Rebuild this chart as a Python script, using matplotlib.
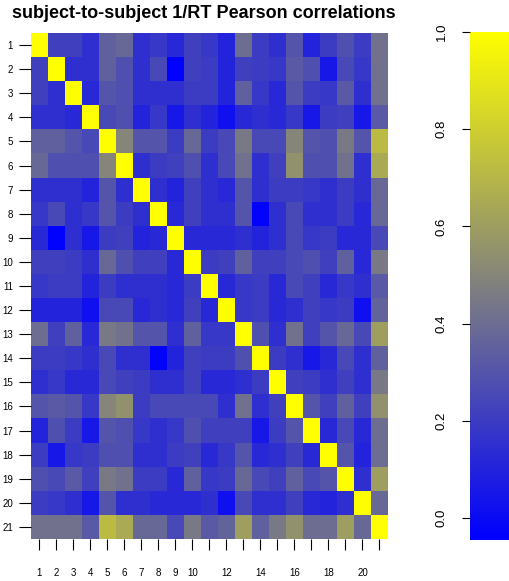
import numpy as np
import matplotlib
matplotlib.use("Agg")
import matplotlib.pyplot as plt
from matplotlib.colors import LinearSegmentedColormap

plt.rcParams["font.family"] = ["Liberation Sans", "DejaVu Sans"]

# subject ids
subjects = list(range(1, 22))
xtick_labels = ["1", "2", "3", "4", "5", "6", "7", "8", "9", "10", "", "12", "",
                "14", "", "16", "", "18", "", "20", ""]

# lower triangle of the correlation matrix (row i, cols 1..i-1)
lower_rows = [
    [],
    [0.22],
    [0.22, 0.15],
    [0.15, 0.15, 0.12],
    [0.35, 0.35, 0.30, 0.25],
    [0.38, 0.28, 0.28, 0.28, 0.50],
    [0.15, 0.15, 0.15, 0.10, 0.30, 0.15],
    [0.18, 0.25, 0.15, 0.18, 0.30, 0.20, 0.15],
    [0.12, -0.04, 0.15, 0.05, 0.20, 0.22, 0.10, 0.12],
    [0.22, 0.22, 0.20, 0.15, 0.38, 0.28, 0.22, 0.22, 0.12],
    [0.18, 0.20, 0.20, 0.10, 0.20, 0.15, 0.15, 0.15, 0.12, 0.20],
    [0.10, 0.10, 0.10, 0.02, 0.25, 0.25, 0.12, 0.15, 0.12, 0.22, 0.12],
    [0.40, 0.22, 0.35, 0.12, 0.45, 0.42, 0.30, 0.30, 0.15, 0.35, 0.18, 0.18],
    [0.20, 0.20, 0.18, 0.15, 0.25, 0.15, 0.15, -0.03, 0.10, 0.22, 0.20, 0.20, 0.28],
    [0.15, 0.18, 0.12, 0.12, 0.25, 0.22, 0.20, 0.15, 0.15, 0.22, 0.12, 0.12, 0.15, 0.20],
    [0.30, 0.32, 0.30, 0.18, 0.50, 0.55, 0.20, 0.25, 0.25, 0.25, 0.25, 0.15, 0.42, 0.15,
     0.22],
    [0.10, 0.28, 0.20, 0.05, 0.30, 0.28, 0.18, 0.15, 0.18, 0.28, 0.22, 0.22, 0.22, 0.05,
     0.20, 0.30],
    [0.20, 0.05, 0.18, 0.20, 0.28, 0.28, 0.15, 0.15, 0.20, 0.22, 0.12, 0.18, 0.30, 0.12,
     0.15, 0.22, 0.12],
    [0.28, 0.25, 0.32, 0.22, 0.45, 0.42, 0.20, 0.20, 0.12, 0.35, 0.18, 0.20, 0.38, 0.25,
     0.22, 0.35, 0.25, 0.30],
    [0.20, 0.18, 0.15, 0.05, 0.30, 0.15, 0.15, 0.12, 0.12, 0.12, 0.15, 0.02, 0.25, 0.15,
     0.15, 0.22, 0.12, 0.10, 0.15],
    [0.42, 0.42, 0.42, 0.32, 0.72, 0.65, 0.38, 0.38, 0.25, 0.45, 0.32, 0.36, 0.60, 0.35,
     0.45, 0.55, 0.40, 0.40, 0.60, 0.38],
]

n = len(subjects)
corr = np.eye(n)
for i, row in enumerate(lower_rows):
    for j, v in enumerate(row):
        corr[i, j] = v
        corr[j, i] = v

cmap = LinearSegmentedColormap.from_list("bgy", ["#0000FF", "#808080", "#FFFF00"])
vmin, vmax = -0.045, 1.0

fig = plt.figure(figsize=(5.1, 5.81), dpi=100)
ax = fig.add_axes([31 / 510, 1 - 539 / 581, 357 / 510, 506 / 581])
ax.imshow(corr, cmap=cmap, vmin=vmin, vmax=vmax, aspect="auto",
          interpolation="nearest")
for s in ax.spines.values():
    s.set_visible(False)

ax.set_xticks(np.arange(n))
ax.set_xticklabels(xtick_labels, fontsize=7)
ax.set_yticks(np.arange(n))
ax.set_yticklabels([str(s) for s in subjects], fontsize=7)
ax.tick_params(axis="x", length=8, width=0.8, pad=13)
ax.tick_params(axis="y", length=9, width=0.8, pad=4)

fig.text(12 / 510, 1 - 13 / 581, "subject-to-subject 1/RT Pearson correlations",
         fontsize=13, fontweight="bold", ha="left", va="center")

# colour key
cax = fig.add_axes([470 / 510, 1 - 540 / 581, 40 / 510, 508 / 581])
grad = np.linspace(vmin, vmax, 256).reshape(-1, 1)
cax.imshow(grad, cmap=cmap, vmin=vmin, vmax=vmax, aspect="auto", origin="lower",
           extent=[0, 1, vmin, vmax])
for s in cax.spines.values():
    s.set_visible(False)
cax.set_xticks([])
cax.set_yticks([0.0, 0.2, 0.4, 0.6, 0.8, 1.0])
cax.set_yticklabels(["0.0", "0.2", "0.4", "0.6", "0.8", "1.0"], fontsize=9.5,
                    rotation=90, va="center")
cax.tick_params(axis="y", length=6, width=0.8, pad=10)

fig.savefig("out.png", dpi=100)
